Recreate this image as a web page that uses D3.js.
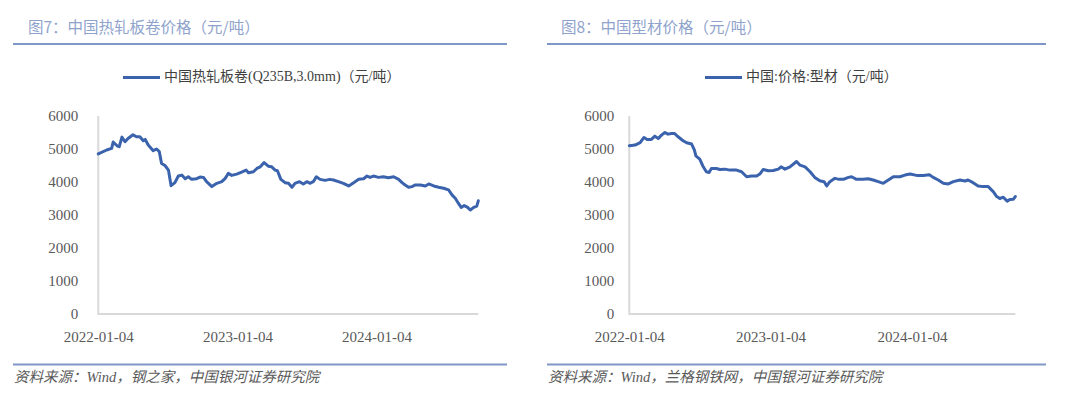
<!DOCTYPE html>
<html>
<head>
<meta charset="utf-8">
<script src="https://cdn.jsdelivr.net/npm/d3@7"></script>
<style>
  html, body { margin: 0; padding: 0; background: #ffffff; }
  svg { display: block; }
</style>
</head>
<body>
<svg id="chart" width="1080" height="405"></svg>
<script>
// ---------- data ----------
const hrcDates = ["2022-01-04","2022-01-26","2022-02-08","2022-02-12","2022-02-23","2022-02-28","2022-03-07","2022-03-15","2022-03-23","2022-04-05","2022-04-14","2022-04-23","2022-05-02","2022-05-07","2022-05-15","2022-05-28","2022-06-06","2022-06-13","2022-06-19","2022-06-28","2022-07-07","2022-07-14","2022-07-24","2022-08-02","2022-08-11","2022-08-20","2022-08-28","2022-09-06","2022-09-19","2022-09-28","2022-10-07","2022-10-15","2022-10-29","2022-11-11","2022-11-24","2022-12-03","2022-12-11","2022-12-20","2023-01-02","2023-01-15","2023-01-27","2023-02-02","2023-02-15","2023-02-24","2023-03-05","2023-03-15","2023-03-26","2023-04-04","2023-04-13","2023-04-19","2023-04-28","2023-05-09","2023-05-18","2023-05-27","2023-06-04","2023-06-16","2023-06-26","2023-07-05","2023-07-14","2023-07-23","2023-07-30","2023-08-09","2023-08-22","2023-09-03","2023-09-13","2023-09-26","2023-10-09","2023-10-23","2023-11-05","2023-11-18","2023-12-01","2023-12-10","2023-12-18","2023-12-27","2024-01-09","2024-01-22","2024-02-04","2024-02-18","2024-03-02","2024-03-11","2024-03-19","2024-03-28","2024-04-06","2024-04-15","2024-04-28","2024-05-11","2024-05-20","2024-06-02","2024-06-15","2024-06-28","2024-07-11","2024-07-20","2024-07-29","2024-08-06","2024-08-13","2024-08-21","2024-08-30","2024-09-06","2024-09-15","2024-09-23","2024-09-27"];
const hrcValues = [4850,4970,5020,5210,5090,5070,5360,5220,5320,5430,5370,5370,5250,5290,5120,4950,5000,4920,4560,4500,4360,3890,3980,4180,4210,4100,4160,4080,4100,4150,4140,4010,3860,3960,4010,4110,4260,4200,4240,4300,4360,4280,4310,4410,4460,4590,4480,4460,4360,4340,4080,3980,3960,3840,3960,4010,3940,4010,3960,4020,4160,4080,4050,4080,4060,4010,3960,3880,3980,4080,4100,4180,4140,4180,4140,4160,4130,4160,4080,3980,3910,3840,3860,3910,3910,3880,3940,3880,3840,3810,3760,3610,3500,3350,3230,3290,3230,3150,3230,3270,3430];

const sectionDates = ["2022-01-04","2022-01-19","2022-02-01","2022-02-11","2022-02-19","2022-03-02","2022-03-11","2022-03-20","2022-03-28","2022-04-06","2022-04-14","2022-04-23","2022-05-01","2022-05-10","2022-05-23","2022-06-01","2022-06-14","2022-06-21","2022-06-25","2022-07-05","2022-07-14","2022-07-22","2022-07-29","2022-08-04","2022-08-17","2022-08-26","2022-09-08","2022-09-21","2022-10-08","2022-10-21","2022-11-03","2022-11-16","2022-11-29","2022-12-07","2022-12-16","2022-12-29","2023-01-11","2023-01-24","2023-01-31","2023-02-10","2023-02-23","2023-03-12","2023-03-21","2023-04-03","2023-04-16","2023-04-28","2023-05-11","2023-05-22","2023-05-29","2023-06-06","2023-06-19","2023-06-30","2023-07-11","2023-07-24","2023-08-01","2023-08-14","2023-08-31","2023-09-13","2023-09-26","2023-10-09","2023-10-22","2023-11-04","2023-11-17","2023-12-04","2023-12-17","2023-12-30","2024-01-16","2024-02-02","2024-02-18","2024-02-28","2024-03-12","2024-03-25","2024-04-07","2024-04-20","2024-05-07","2024-05-20","2024-05-28","2024-06-10","2024-06-23","2024-07-06","2024-07-19","2024-08-01","2024-08-10","2024-08-18","2024-08-27","2024-09-06","2024-09-13","2024-09-22","2024-09-27"];
const sectionValues = [5100,5120,5190,5350,5290,5290,5390,5320,5420,5500,5450,5470,5470,5370,5250,5190,5150,4970,4790,4690,4460,4310,4290,4410,4410,4380,4390,4360,4360,4310,4160,4180,4180,4240,4380,4340,4350,4390,4460,4390,4460,4620,4510,4460,4310,4140,4040,4010,3880,4010,4110,4080,4080,4140,4160,4080,4080,4100,4060,4010,3960,4060,4160,4160,4210,4240,4200,4200,4220,4140,4060,3960,3940,4010,4060,4030,4060,3980,3880,3860,3860,3710,3560,3500,3540,3420,3470,3480,3560];

const yTickValues = [0, 1000, 2000, 3000, 4000, 5000, 6000];
const xTickLabels = ["2022-01-04", "2023-01-04", "2024-01-04"];

const panelTitles = ["图7：中国热轧板卷价格（元/吨）", "图8：中国型材价格（元/吨）"];
const legendNames = ["中国热轧板卷(Q235B,3.0mm)（元/吨）", "中国:价格:型材（元/吨）"];
const sourceNotes = ["资料来源：Wind，钢之家，中国银河证券研究院", "资料来源：Wind，兰格钢铁网，中国银河证券研究院"];

// ---------- drawing ----------
const parse = d3.timeParse("%Y-%m-%d");
const svg = d3.select("#chart");
const LINE_COLOR = "#3B63AD";
const RULE_COLOR = "#7F97C7";
const TEXT_COLOR = "#595959";
const TITLE_COLOR = "#8FA3CC";
const SERIF = "'Liberation Serif', 'Noto Sans CJK SC', serif";
const CJK = "'Noto Sans CJK SC', sans-serif";

function drawPanel(cfg) {
  const g = svg.append("g");
  const data = cfg.dates.map((d, i) => ({ date: parse(d), value: cfg.values[i] }));

  // title
  g.append("text")
    .attr("x", cfg.titleX).attr("y", 29)
    .attr("dominant-baseline", "middle")
    .attr("font-family", CJK).attr("font-size", 15.5)
    .attr("fill", TITLE_COLOR)
    .text(cfg.title);

  // top and bottom rules
  [44, 364.5].forEach(yy => {
    g.append("line")
      .attr("x1", cfg.ruleX1).attr("x2", cfg.ruleX2)
      .attr("y1", yy).attr("y2", yy)
      .attr("stroke", RULE_COLOR).attr("stroke-width", 2);
  });

  // legend
  g.append("line")
    .attr("x1", cfg.legendX).attr("x2", cfg.legendX + 37)
    .attr("y1", 77.5).attr("y2", 77.5)
    .attr("stroke", LINE_COLOR).attr("stroke-width", 3);
  g.append("text")
    .attr("x", cfg.legendX + 41).attr("y", 78)
    .attr("dominant-baseline", "middle")
    .attr("font-family", SERIF).attr("font-size", 14)
    .attr("fill", "#404040")
    .text(cfg.legend);

  // scales
  const x = d3.scaleTime()
    .domain(d3.extent(data, d => d.date))
    .range([cfg.plotX0, cfg.plotX1]);
  const y = d3.scaleLinear().domain([0, 6000]).range([314, 116]);

  // y axis (labels only)
  const yAxis = d3.axisLeft(y).tickValues(yTickValues).tickSize(0).tickPadding(cfg.yPad).tickFormat(d3.format("d"));
  const ya = g.append("g").attr("transform", `translate(${cfg.plotX0},0)`).call(yAxis);
  ya.select(".domain").remove();
  ya.selectAll("text")
    .attr("font-family", SERIF).attr("font-size", 15)
    .attr("fill", TEXT_COLOR);

  // x axis labels
  const xAxis = d3.axisBottom(x)
    .tickValues(xTickLabels.map(parse))
    .tickSize(0).tickPadding(17)
    .tickFormat(d3.timeFormat("%Y-%m-%d"));
  const xa = g.append("g").attr("transform", "translate(0,314)").call(xAxis);
  xa.select(".domain").remove();
  xa.selectAll("text")
    .attr("font-family", SERIF).attr("font-size", 15)
    .attr("fill", TEXT_COLOR);

  // axis lines
  g.append("line")
    .attr("x1", cfg.plotX0).attr("x2", cfg.plotX0)
    .attr("y1", y(6000)).attr("y2", y(0) + 1)
    .attr("stroke", "#D9D9D9").attr("stroke-width", 2);
  g.append("line")
    .attr("x1", cfg.plotX0).attr("x2", cfg.plotX1)
    .attr("y1", y(0)).attr("y2", y(0))
    .attr("stroke", "#D9D9D9").attr("stroke-width", 2);

  // series line
  const line = d3.line().x(d => x(d.date)).y(d => y(d.value)).curve(d3.curveLinear);
  g.append("path")
    .datum(data)
    .attr("d", line)
    .attr("fill", "none")
    .attr("stroke", LINE_COLOR)
    .attr("stroke-width", 3)
    .attr("stroke-linejoin", "round")
    .attr("stroke-linecap", "round");

  // source note
  g.append("text")
    .attr("x", cfg.ruleX1 + 1).attr("y", 379)
    .attr("dominant-baseline", "middle")
    .attr("font-family", SERIF).attr("font-size", 14.5)
    .attr("font-style", "italic")
    .attr("fill", TEXT_COLOR)
    .text(cfg.source);
}

drawPanel({
  dates: hrcDates, values: hrcValues,
  title: panelTitles[0], legend: legendNames[0], source: sourceNotes[0],
  titleX: 28, ruleX1: 13, ruleX2: 507, legendX: 123,
  plotX0: 98.3, plotX1: 478.3, yPad: 20
});
drawPanel({
  dates: sectionDates, values: sectionValues,
  title: panelTitles[1], legend: legendNames[1], source: sourceNotes[1],
  titleX: 561, ruleX1: 547, ruleX2: 1046, legendX: 705,
  plotX0: 629.3, plotX1: 1015.3, yPad: 15
});
</script>
</body>
</html>
